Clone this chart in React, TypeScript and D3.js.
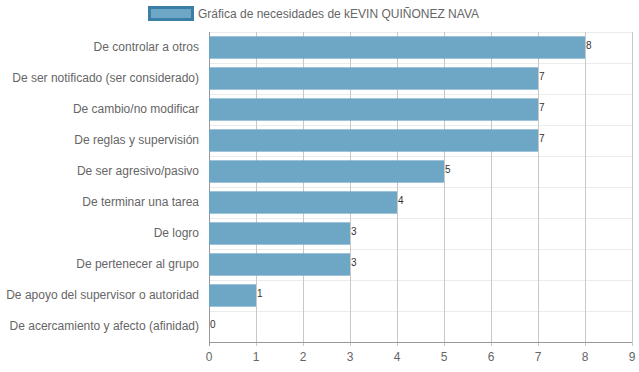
import * as d3 from "d3";

// needs chart
const categories = [
  "De controlar a otros",
  "De ser notificado (ser considerado)",
  "De cambio/no modificar",
  "De reglas y supervisión",
  "De ser agresivo/pasivo",
  "De terminar una tarea",
  "De logro",
  "De pertenecer al grupo",
  "De apoyo del supervisor o autoridad",
  "De acercamiento y afecto (afinidad)",
];
const values = [8, 7, 7, 7, 5, 4, 3, 3, 1, 0];
const xTicks = [0, 1, 2, 3, 4, 5, 6, 7, 8, 9];
const legendLabel = "Gráfica de necesidades de kEVIN QUIÑONEZ NAVA";

const W = 639;
const H = 372;
const M = { top: 32, right: 7, bottom: 30, left: 209 };
const FONT = "'Liberation Sans', Arial, Helvetica, sans-serif";
const BAR = "#6ea7c6";

export default function App() {
  const innerW = W - M.left - M.right;
  const innerH = H - M.top - M.bottom;

  const x = d3.scaleLinear().domain([0, 9]).range([0, innerW]);
  const y = d3.scaleBand().domain(categories).range([0, innerH]);
  const barH = y.bandwidth() * 0.72;

  return (
    <svg
      width={W}
      height={H}
      style={{ position: "absolute", left: 0, top: 0, fontFamily: FONT }}
    >
      {/* legend */}
      <rect x={149.5} y={7.5} width={43} height={12} fill={BAR} stroke="#3b7ea6" strokeWidth={3} />
      <text x={198} y={18} fontSize={12} fill="#666">
        {legendLabel}
      </text>

      <g transform={`translate(${M.left},${M.top})`}>
        {/* horizontal gridlines between categories */}
        {categories.map((c) => (
          <line key={c} x1={0} x2={innerW} y1={y(c)! + 0.5} y2={y(c)! + 0.5} stroke="#ebebeb" />
        ))}
        {/* vertical gridlines */}
        {xTicks.map((t) => (
          <line
            key={t}
            x1={Math.round(x(t)) + 0.5}
            x2={Math.round(x(t)) + 0.5}
            y1={0}
            y2={innerH + 4}
            stroke={t === 0 ? "#999" : "#c8c8c8"}
          />
        ))}
        <line x1={0} x2={innerW} y1={innerH + 0.5} y2={innerH + 0.5} stroke="#999" />

        {/* bars */}
        {categories.map((c, i) => (
          <rect
            key={c}
            x={x(0)}
            y={y(c)! + (y.bandwidth() - barH) / 2}
            width={x(values[i]) - x(0)}
            height={barH}
            fill={BAR}
          />
        ))}

        {/* value labels */}
        {categories.map((c, i) => (
          <text
            key={c}
            x={x(values[i]) + 1}
            y={y(c)! + y.bandwidth() / 2 - 1}
            fontSize={10}
            fill="#333"
            dominantBaseline="middle"
          >
            {values[i]}
          </text>
        ))}

        {/* y labels */}
        {categories.map((c) => (
          <text
            key={c}
            x={-10}
            y={y(c)! + y.bandwidth() / 2}
            fontSize={12}
            fill="#666"
            textAnchor="end"
            dominantBaseline="middle"
          >
            {c}
          </text>
        ))}

        {/* x tick labels */}
        {xTicks.map((t) => (
          <text key={t} x={x(t)} y={innerH + 19} fontSize={12} fill="#666" textAnchor="middle">
            {t}
          </text>
        ))}
      </g>
    </svg>
  );
}
